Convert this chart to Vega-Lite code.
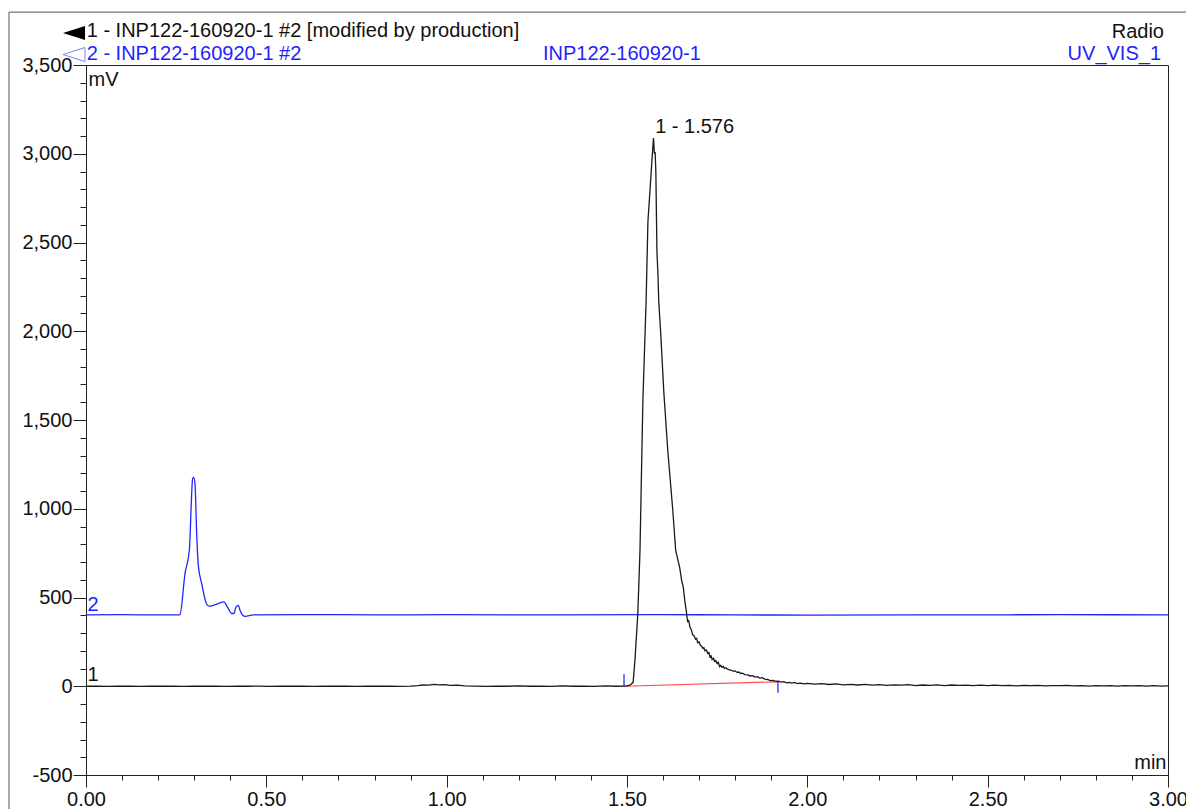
{
  "$schema": "https://vega.github.io/schema/vega-lite/v6.json",
  "width": 1082,
  "height": 710,
  "autosize": {"type": "none"},
  "padding": {"left": 86, "top": 65, "right": 18, "bottom": 34},
  "background": "#ffffff",
  "config": {
    "font": "Liberation Sans",
    "view": {"stroke": "#222222", "strokeWidth": 1},
    "axis": {"domainColor": "#222222", "tickColor": "#222222", "labelColor": "#111111", "titleColor": "#111111", "labelFont": "Liberation Sans", "titleFont": "Liberation Sans", "grid": false, "domainWidth": 1, "tickWidth": 1}
  },
  "datasets": {
    "black": [
      {"t": 0.0, "mv": 0}, {"t": 0.03, "mv": 1}, {"t": 0.06, "mv": -1}, {"t": 0.09, "mv": 0}, {"t": 0.12, "mv": 1},
      {"t": 0.15, "mv": -1}, {"t": 0.18, "mv": 0}, {"t": 0.21, "mv": 1}, {"t": 0.24, "mv": 0}, {"t": 0.27, "mv": -1},
      {"t": 0.3, "mv": 1}, {"t": 0.33, "mv": 0}, {"t": 0.36, "mv": 0}, {"t": 0.39, "mv": -1}, {"t": 0.42, "mv": 1},
      {"t": 0.45, "mv": 0}, {"t": 0.48, "mv": 1}, {"t": 0.51, "mv": -1}, {"t": 0.54, "mv": 0}, {"t": 0.57, "mv": 1},
      {"t": 0.6, "mv": 0}, {"t": 0.63, "mv": -1}, {"t": 0.66, "mv": 0}, {"t": 0.69, "mv": 1}, {"t": 0.72, "mv": 0},
      {"t": 0.75, "mv": -1}, {"t": 0.78, "mv": 1}, {"t": 0.81, "mv": 0}, {"t": 0.84, "mv": 1}, {"t": 0.87, "mv": -1},
      {"t": 0.9, "mv": 1}, {"t": 0.92, "mv": 4}, {"t": 0.935, "mv": 7}, {"t": 0.95, "mv": 6}, {"t": 0.965, "mv": 10},
      {"t": 0.98, "mv": 8}, {"t": 0.995, "mv": 9}, {"t": 1.01, "mv": 5}, {"t": 1.03, "mv": 6}, {"t": 1.05, "mv": 2},
      {"t": 1.08, "mv": 1}, {"t": 1.11, "mv": -1}, {"t": 1.14, "mv": 1}, {"t": 1.17, "mv": 0}, {"t": 1.2, "mv": 2},
      {"t": 1.23, "mv": 0}, {"t": 1.26, "mv": 1}, {"t": 1.29, "mv": -1}, {"t": 1.32, "mv": 2}, {"t": 1.35, "mv": 0},
      {"t": 1.38, "mv": 1}, {"t": 1.41, "mv": -1}, {"t": 1.44, "mv": 2}, {"t": 1.47, "mv": 0}, {"t": 1.492, "mv": 1},
      {"t": 1.5, "mv": 2}, {"t": 1.508, "mv": 6}, {"t": 1.517, "mv": 22}, {"t": 1.522, "mv": 146}, {"t": 1.53, "mv": 410},
      {"t": 1.536, "mv": 764}, {"t": 1.544, "mv": 1607}, {"t": 1.553, "mv": 2169}, {"t": 1.558, "mv": 2618}, {"t": 1.564, "mv": 2800},
      {"t": 1.569, "mv": 2960}, {"t": 1.5735, "mv": 3089}, {"t": 1.576, "mv": 3000}, {"t": 1.578, "mv": 3010}, {"t": 1.58, "mv": 2900},
      {"t": 1.583, "mv": 2450}, {"t": 1.586, "mv": 2310}, {"t": 1.588, "mv": 2170}, {"t": 1.594, "mv": 1970}, {"t": 1.602, "mv": 1660},
      {"t": 1.613, "mv": 1330}, {"t": 1.627, "mv": 990}, {"t": 1.635, "mv": 765}, {"t": 1.646, "mv": 670}, {"t": 1.652, "mv": 590},
      {"t": 1.656, "mv": 560}, {"t": 1.66, "mv": 485}, {"t": 1.664, "mv": 430}, {"t": 1.668, "mv": 365}, {"t": 1.671, "mv": 370},
      {"t": 1.675, "mv": 330}, {"t": 1.678, "mv": 320}, {"t": 1.682, "mv": 290}, {"t": 1.686, "mv": 285}, {"t": 1.69, "mv": 265},
      {"t": 1.693, "mv": 270}, {"t": 1.696, "mv": 245}, {"t": 1.7, "mv": 250}, {"t": 1.703, "mv": 232}, {"t": 1.707, "mv": 225},
      {"t": 1.71, "mv": 215}, {"t": 1.713, "mv": 218}, {"t": 1.716, "mv": 200}, {"t": 1.72, "mv": 205}, {"t": 1.724, "mv": 185},
      {"t": 1.727, "mv": 190}, {"t": 1.73, "mv": 165}, {"t": 1.733, "mv": 172}, {"t": 1.736, "mv": 150}, {"t": 1.74, "mv": 158},
      {"t": 1.743, "mv": 140}, {"t": 1.746, "mv": 145}, {"t": 1.75, "mv": 128}, {"t": 1.753, "mv": 135}, {"t": 1.757, "mv": 110},
      {"t": 1.76, "mv": 118}, {"t": 1.763, "mv": 108}, {"t": 1.767, "mv": 112}, {"t": 1.77, "mv": 100}, {"t": 1.774, "mv": 104},
      {"t": 1.779, "mv": 96}, {"t": 1.784, "mv": 92}, {"t": 1.79, "mv": 90}, {"t": 1.795, "mv": 84}, {"t": 1.8, "mv": 86},
      {"t": 1.805, "mv": 78}, {"t": 1.81, "mv": 80}, {"t": 1.815, "mv": 72}, {"t": 1.82, "mv": 74}, {"t": 1.827, "mv": 66},
      {"t": 1.835, "mv": 64}, {"t": 1.841, "mv": 58}, {"t": 1.848, "mv": 60}, {"t": 1.855, "mv": 52}, {"t": 1.862, "mv": 54},
      {"t": 1.868, "mv": 46}, {"t": 1.875, "mv": 48}, {"t": 1.882, "mv": 40}, {"t": 1.89, "mv": 38}, {"t": 1.897, "mv": 32},
      {"t": 1.905, "mv": 33}, {"t": 1.912, "mv": 27}, {"t": 1.92, "mv": 29}, {"t": 1.927, "mv": 23}, {"t": 1.935, "mv": 26},
      {"t": 1.942, "mv": 19}, {"t": 1.95, "mv": 22}, {"t": 1.957, "mv": 18}, {"t": 1.965, "mv": 22}, {"t": 1.972, "mv": 15},
      {"t": 1.98, "mv": 18}, {"t": 1.99, "mv": 13}, {"t": 2.0, "mv": 16}, {"t": 2.02, "mv": 12}, {"t": 2.04, "mv": 15},
      {"t": 2.06, "mv": 10}, {"t": 2.08, "mv": 13}, {"t": 2.1, "mv": 8}, {"t": 2.12, "mv": 11}, {"t": 2.14, "mv": 7},
      {"t": 2.16, "mv": 10}, {"t": 2.18, "mv": 6}, {"t": 2.2, "mv": 9}, {"t": 2.22, "mv": 5}, {"t": 2.24, "mv": 8},
      {"t": 2.26, "mv": 6}, {"t": 2.28, "mv": 9}, {"t": 2.3, "mv": 4}, {"t": 2.32, "mv": 7}, {"t": 2.34, "mv": 5},
      {"t": 2.36, "mv": 8}, {"t": 2.38, "mv": 4}, {"t": 2.4, "mv": 7}, {"t": 2.42, "mv": 5}, {"t": 2.44, "mv": 6},
      {"t": 2.46, "mv": 3}, {"t": 2.48, "mv": 6}, {"t": 2.5, "mv": 4}, {"t": 2.52, "mv": 6}, {"t": 2.54, "mv": 3},
      {"t": 2.56, "mv": 5}, {"t": 2.58, "mv": 2}, {"t": 2.6, "mv": 5}, {"t": 2.62, "mv": 3}, {"t": 2.64, "mv": 5},
      {"t": 2.66, "mv": 2}, {"t": 2.68, "mv": 4}, {"t": 2.7, "mv": 3}, {"t": 2.72, "mv": 5}, {"t": 2.74, "mv": 2},
      {"t": 2.76, "mv": 4}, {"t": 2.78, "mv": 1}, {"t": 2.8, "mv": 4}, {"t": 2.82, "mv": 2}, {"t": 2.84, "mv": 4},
      {"t": 2.86, "mv": 1}, {"t": 2.88, "mv": 3}, {"t": 2.9, "mv": 2}, {"t": 2.92, "mv": 4}, {"t": 2.94, "mv": 1},
      {"t": 2.96, "mv": 3}, {"t": 2.98, "mv": 1}, {"t": 3.0, "mv": 2}
    ],
    "blue": [
      {"t": 0.0, "mv": 402}, {"t": 0.1, "mv": 403}, {"t": 0.2, "mv": 402}, {"t": 0.255, "mv": 402}, {"t": 0.2606, "mv": 404},
      {"t": 0.2745, "mv": 635}, {"t": 0.2865, "mv": 766}, {"t": 0.2957, "mv": 1169}, {"t": 0.2985, "mv": 1177}, {"t": 0.3022, "mv": 1141},
      {"t": 0.3069, "mv": 860}, {"t": 0.3114, "mv": 681}, {"t": 0.3208, "mv": 578}, {"t": 0.3346, "mv": 462}, {"t": 0.3419, "mv": 451},
      {"t": 0.353, "mv": 456}, {"t": 0.3669, "mv": 466}, {"t": 0.3826, "mv": 475}, {"t": 0.3918, "mv": 447}, {"t": 0.404, "mv": 410},
      {"t": 0.4103, "mv": 410}, {"t": 0.4159, "mv": 447}, {"t": 0.4223, "mv": 456}, {"t": 0.427, "mv": 428}, {"t": 0.4344, "mv": 400},
      {"t": 0.4409, "mv": 394}, {"t": 0.4639, "mv": 402}, {"t": 0.6, "mv": 404}, {"t": 0.8, "mv": 402}, {"t": 1.0, "mv": 403},
      {"t": 1.3, "mv": 402}, {"t": 1.6, "mv": 403}, {"t": 2.0, "mv": 401}, {"t": 2.4, "mv": 402}, {"t": 2.7, "mv": 403}, {"t": 3.0, "mv": 402}
    ],
    "frame": [
      {"t": -0.2135, "t2": 3.1, "mv": 3798, "mv2": 3798},
      {"t": -0.2135, "t2": -0.2135, "mv": 3798, "mv2": -720}
    ],
    "baseline": [
      {"t": 1.4917, "t2": 1.9186, "mv": 0, "mv2": 25}
    ],
    "delim": [
      {"t": 1.4917, "t2": 1.4917, "mv": 0, "mv2": 67},
      {"t": 1.9186, "t2": 1.9186, "mv": 25, "mv2": -37}
    ],
    "marker1": [{"t": -0.0333, "mv": 3680}],
    "marker2": [{"t": -0.0333, "mv": 3559}],
    "textLeft": [
      {"t": 0.002, "mv": 3691, "label": "1 - INP122-160920-1 #2 [modified by production]", "trace": "1"},
      {"t": 0.002, "mv": 3562, "label": "2 - INP122-160920-1 #2", "trace": "2"},
      {"t": 1.2671, "mv": 3562, "label": "INP122-160920-1", "trace": "2"},
      {"t": 1.578, "mv": 3151, "label": "1 - 1.576", "trace": "1"},
      {"t": 0.004, "mv": 63, "label": "1", "trace": "1"},
      {"t": 0.004, "mv": 458, "label": "2", "trace": "2"}
    ],
    "textRight": [
      {"t": 2.9889, "mv": 3686, "label": "Radio", "trace": "1"},
      {"t": 2.9806, "mv": 3562, "label": "UV_VIS_1", "trace": "2"}
    ]
  },
  "resolve": {"scale": {"x": "shared", "y": "shared"}, "axis": {"x": "independent", "y": "independent"}},
  "layer": [
    {
      "data": {"name": "frame"},
      "mark": {"type": "rule", "color": "#555555", "strokeWidth": 1, "clip": false},
      "encoding": {
        "x": {"field": "t", "type": "quantitative", "scale": {"domain": [0, 3], "nice": false, "zero": false}, "axis": null},
        "x2": {"field": "t2"},
        "y": {"field": "mv", "type": "quantitative", "scale": {"domain": [-500, 3500], "nice": false, "zero": false}, "axis": null},
        "y2": {"field": "mv2"}
      }
    },
    {
      "data": {"name": "blue"},
      "mark": {"type": "line", "color": "#2323ff", "strokeWidth": 1.3, "interpolate": "monotone"},
      "encoding": {
        "x": {"field": "t", "type": "quantitative", "scale": {"domain": [0, 3], "nice": false, "zero": false},
          "axis": {"orient": "bottom", "values": [0, 0.1, 0.2, 0.3, 0.4, 0.5, 0.6, 0.7, 0.8, 0.9, 1, 1.1, 1.2, 1.3, 1.4, 1.5, 1.6, 1.7, 1.8, 1.9, 2, 2.1, 2.2, 2.3, 2.4, 2.5, 2.6, 2.7, 2.8, 2.9, 3], "labels": false, "tickSize": 5, "domain": false, "title": null}},
        "y": {"field": "mv", "type": "quantitative", "scale": {"domain": [-500, 3500], "nice": false, "zero": false},
          "axis": {"orient": "left", "values": [-500, -400, -300, -200, -100, 0, 100, 200, 300, 400, 500, 600, 700, 800, 900, 1000, 1100, 1200, 1300, 1400, 1500, 1600, 1700, 1800, 1900, 2000, 2100, 2200, 2300, 2400, 2500, 2600, 2700, 2800, 2900, 3000, 3100, 3200, 3300, 3400, 3500], "labels": false, "tickSize": 6, "domain": false, "title": null}}
      }
    },
    {
      "data": {"name": "baseline"},
      "mark": {"type": "rule", "color": "#ff4a4a", "strokeWidth": 1.2},
      "encoding": {
        "x": {"field": "t", "type": "quantitative", "scale": {"domain": [0, 3], "nice": false, "zero": false}, "axis": null},
        "x2": {"field": "t2"},
        "y": {"field": "mv", "type": "quantitative", "scale": {"domain": [-500, 3500], "nice": false, "zero": false}, "axis": null},
        "y2": {"field": "mv2"}
      }
    },
    {
      "data": {"name": "black"},
      "mark": {"type": "line", "color": "#1a1a1a", "strokeWidth": 1.3},
      "encoding": {
        "x": {"field": "t", "type": "quantitative", "scale": {"domain": [0, 3], "nice": false, "zero": false},
          "axis": {"orient": "bottom", "values": [0, 0.5, 1, 1.5, 2, 2.5, 3], "format": ".2f", "tickSize": 12, "labelFontSize": 20, "labelPadding": 2, "labelFlush": false, "labelOverlap": false,
            "title": "min", "titleFontSize": 20, "titleFontWeight": "normal", "titleAlign": "right", "titleBaseline": "middle", "titleX": 1080, "titleY": -13, "titleAnchor": null}},
        "y": {"field": "mv", "type": "quantitative", "scale": {"domain": [-500, 3500], "nice": false, "zero": false},
          "axis": {"orient": "left", "values": [-500, 0, 500, 1000, 1500, 2000, 2500, 3000, 3500], "labelExpr": "replace(format(datum.value, ','), '\u2212', '-')", "tickSize": 13, "labelFontSize": 20, "labelPadding": 1, "labelFlush": false, "labelOverlap": false,
            "title": "mV", "titleFontSize": 20, "titleFontWeight": "normal", "titleAngle": 0, "titleAlign": "left", "titleBaseline": "middle", "titleX": 2, "titleY": 14}}
      }
    },
    {
      "data": {"name": "delim"},
      "mark": {"type": "rule", "color": "#1a1aff", "strokeWidth": 1.2},
      "encoding": {
        "x": {"field": "t", "type": "quantitative", "scale": {"domain": [0, 3], "nice": false, "zero": false}, "axis": null},
        "x2": {"field": "t2"},
        "y": {"field": "mv", "type": "quantitative", "scale": {"domain": [-500, 3500], "nice": false, "zero": false}, "axis": null},
        "y2": {"field": "mv2"}
      }
    },
    {
      "data": {"name": "marker1"},
      "mark": {"type": "point", "shape": "M 1 -0.64 L -1 0 L 1 0.64 Z", "size": 484, "filled": true, "color": "#000000", "opacity": 1, "clip": false},
      "encoding": {
        "x": {"field": "t", "type": "quantitative", "scale": {"domain": [0, 3], "nice": false, "zero": false}, "axis": null},
        "y": {"field": "mv", "type": "quantitative", "scale": {"domain": [-500, 3500], "nice": false, "zero": false}, "axis": null}
      }
    },
    {
      "data": {"name": "marker2"},
      "mark": {"type": "point", "shape": "M 1 -0.64 L -1 0 L 1 0.64 Z", "size": 484, "filled": false, "fill": null, "stroke": "#7f7fff", "strokeWidth": 1, "opacity": 1, "clip": false},
      "encoding": {
        "x": {"field": "t", "type": "quantitative", "scale": {"domain": [0, 3], "nice": false, "zero": false}, "axis": null},
        "y": {"field": "mv", "type": "quantitative", "scale": {"domain": [-500, 3500], "nice": false, "zero": false}, "axis": null}
      }
    },
    {
      "data": {"name": "textLeft"},
      "mark": {"type": "text", "align": "left", "baseline": "middle", "fontSize": 20, "font": "Liberation Sans", "clip": false},
      "encoding": {
        "x": {"field": "t", "type": "quantitative", "scale": {"domain": [0, 3], "nice": false, "zero": false}, "axis": null},
        "y": {"field": "mv", "type": "quantitative", "scale": {"domain": [-500, 3500], "nice": false, "zero": false}, "axis": null},
        "text": {"field": "label"},
        "color": {"field": "trace", "type": "nominal", "scale": {"domain": ["1", "2"], "range": ["#111111", "#1f1fff"]}, "legend": null}
      }
    },
    {
      "data": {"name": "textRight"},
      "mark": {"type": "text", "align": "right", "baseline": "middle", "fontSize": 20, "font": "Liberation Sans", "clip": false},
      "encoding": {
        "x": {"field": "t", "type": "quantitative", "scale": {"domain": [0, 3], "nice": false, "zero": false}, "axis": null},
        "y": {"field": "mv", "type": "quantitative", "scale": {"domain": [-500, 3500], "nice": false, "zero": false}, "axis": null},
        "text": {"field": "label"},
        "color": {"field": "trace", "type": "nominal", "scale": {"domain": ["1", "2"], "range": ["#111111", "#1f1fff"]}, "legend": null}
      }
    }
  ]
}
